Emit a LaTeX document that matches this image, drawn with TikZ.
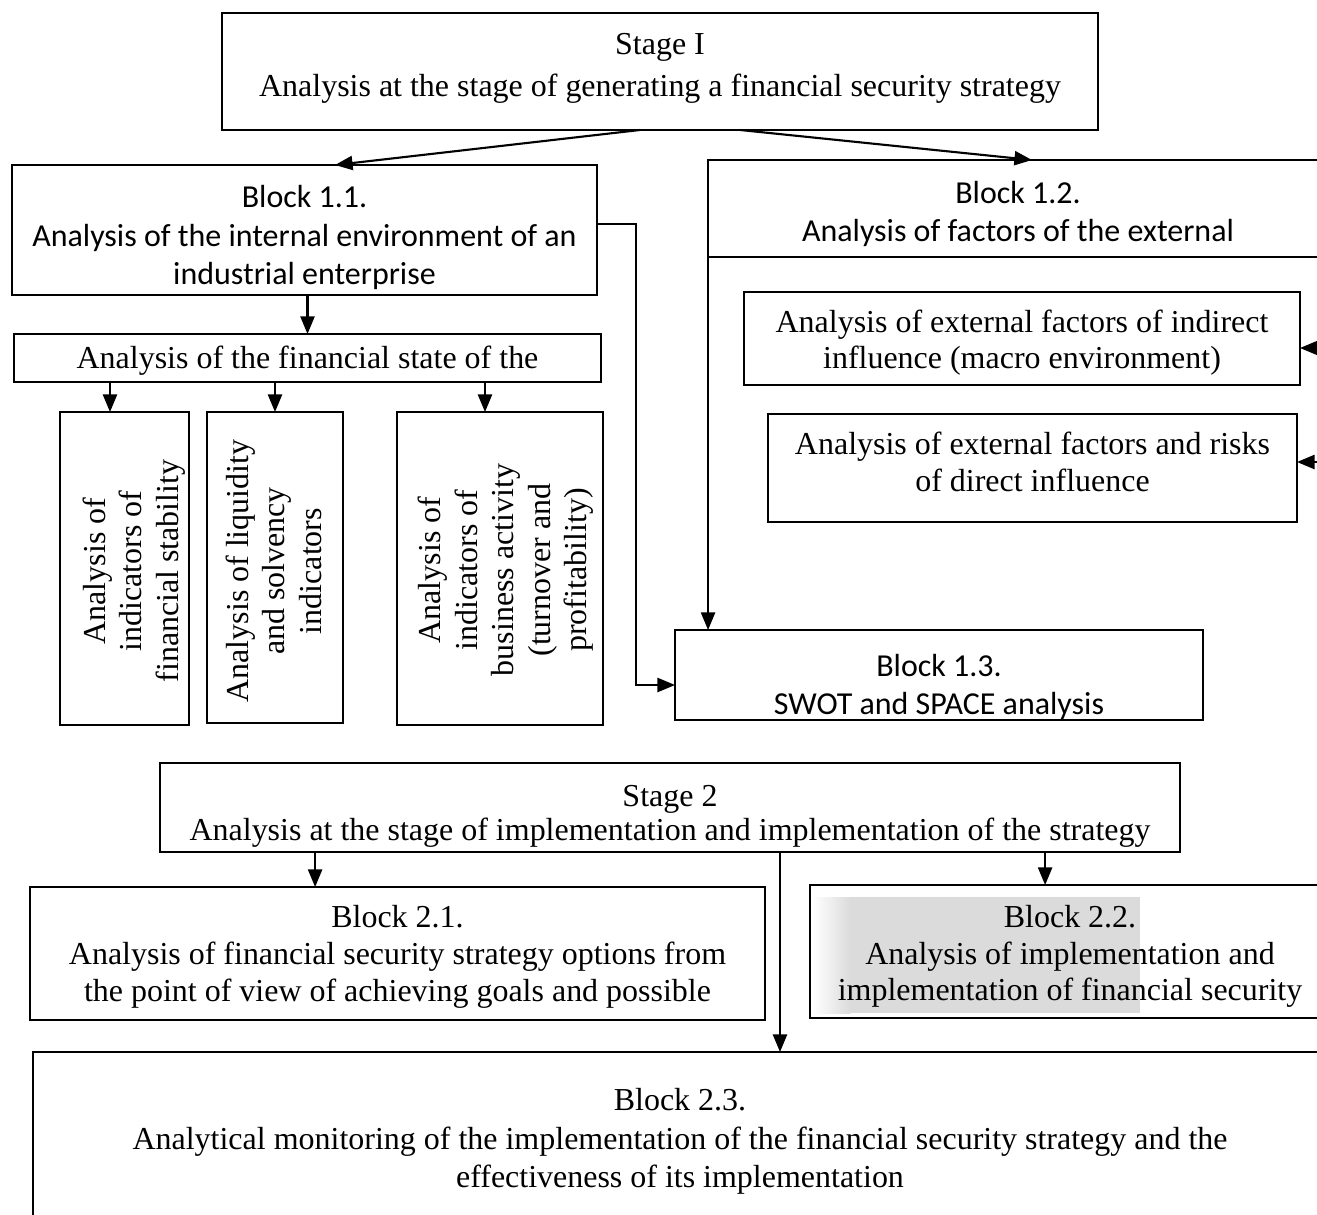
\documentclass[tikz,border=0pt]{standalone}
\usepackage{fontspec}
\setmainfont{Liberation Serif}
\newfontfamily\calfont{Carlito}
\usetikzlibrary{arrows.meta,calc}
\begin{document}
\begin{tikzpicture}[x=0.02cm,y=-0.02cm,
  box/.style={draw, line width=1.4pt, inner sep=0pt, outer sep=0pt},
  txt/.style={align=center, inner sep=0pt, outer sep=0pt,
    execute at begin node=\strut, execute at end node=\strut},
  serif/.style={txt, font=\fontsize{18.2}{#1}\selectfont},
  serif/.default=21,
  sans/.style={txt, font=\calfont\fontsize{18.2}{#1}\selectfont},
  sans/.default=21.6,
  arr/.style={line width=1.2pt, -{Triangle[length=10pt,width=8pt]}}]
\clip (0,0) rectangle (1317,1214);

% Stage I
\node[box, minimum width=17.52cm, minimum height=2.34cm] (s1) at (660,71.5) {};
\node[serif=24] (s1t) at (660,71)
  {Stage I\\Analysis at the stage of generating a financial security strategy};

% Block 1.1 and its sub-analyses
\node[box, minimum width=11.70cm, minimum height=2.60cm] (b11) at (304.5,230) {};
\begin{scope}
  \clip (b11.south west) rectangle (b11.north east);
  \node[sans=22] (b11t) at (304.5,241)
    {Block 1.1.\\Analysis of the internal environment of an\\industrial enterprise};
\end{scope}
\node[box, minimum width=11.74cm, minimum height=0.96cm] (fs) at (307.5,358) {};
\node[serif] (fst) at (307.5,361.6) {Analysis of the financial state of the};
\node[box, minimum width=2.58cm, minimum height=6.26cm] (vA) at (124.5,568.5) {};
\node[serif=20.8, rotate=90] (vAt) at (136,571)
  {Analysis of\\indicators of\\financial stability};
\node[box, minimum width=2.72cm, minimum height=6.22cm] (vB) at (275,567.5) {};
\node[serif=20.8, rotate=90] (vBt) at (279,571)
  {Analysis of liquidity\\and solvency\\indicators};
\node[box, minimum width=4.12cm, minimum height=6.26cm] (vC) at (500,568.5) {};
\node[serif=20.8, rotate=90] (vCt) at (508,570)
  {Analysis of\\indicators of\\business activity\\(turnover and\\profitability)};

% Block 1.2 and external factors
\node[box, minimum width=12.40cm, minimum height=1.94cm] (b12) at (1018,208.5) {};
\node[sans] (b12t) at (1018,217.5) {Block 1.2.\\Analysis of factors of the external};
\node[box, minimum width=11.12cm, minimum height=1.86cm] (ind) at (1022,338.5) {};
\node[serif=20.5] (indt) at (1022,344.8)
  {Analysis of external factors of indirect\\influence (macro environment)};
\node[box, minimum width=10.58cm, minimum height=2.16cm] (dir) at (1032.5,468) {};
\node[serif] (dirt) at (1032.5,467.3)
  {Analysis of external factors and risks\\of direct influence};

% Block 1.3
\node[box, minimum width=10.56cm, minimum height=1.80cm] (b13) at (939,675) {};
\begin{scope}
  \clip (b13.south west) rectangle (b13.north east);
  \node[sans] (b13t) at (939,690) {Block 1.3.\\SWOT and SPACE analysis};
\end{scope}

% Stage 2 and its blocks
\node[box, minimum width=20.40cm, minimum height=1.78cm] (s2) at (670,807.5) {};
\node[serif=19.5] (s2t) at (670,818)
  {Stage 2\\Analysis at the stage of implementation and implementation of the strategy};
\node[box, minimum width=14.70cm, minimum height=2.66cm] (b21) at (397.5,953.5) {};
\node[serif=21.3] (b21t) at (397.5,959)
  {Block 2.1.\\Analysis of financial security strategy options from\\the point of view of achieving goals and possible};
% soft grey band behind the Block 2.2 text
\fill[left color=white, right color=black!14] (813,897) rectangle (850,1013);
\fill[black!14] (850,897) rectangle (1140,1013);
\node[box, minimum width=10.40cm, minimum height=2.66cm] (b22) at (1070,951.5) {};
\node[serif=21] (b22t) at (1070,958.5)
  {Block 2.2.\\Analysis of implementation and\\implementation of financial security};
\node[box, minimum width=25.88cm, minimum height=3.48cm] (b23) at (680,1139) {};
\node[serif=21.9] (b23t) at (680,1144)
  {Block 2.3.\\Analytical monitoring of the implementation of the financial security strategy and the\\effectiveness of its implementation};

% Connectors of stage I
\draw[arr] ($(s1.south)+(-20,0)$) -- ($(b11.north)+(30.5,0)$);
\draw[arr] ($(s1.south)+(80,0)$) -- ($(b12.north)+(14,0)$);
\draw[arr] (fs.north |- b11.south) -- (fs.north);
\coordinate (pA) at ($(vA.north)+(-14.5,0)$);
\coordinate (pC) at ($(vC.north)+(-15,0)$);
\draw[arr] (pA |- fs.south) -- (pA);
\draw[arr] (vB.north |- fs.south) -- (vB.north);
\draw[arr] (pC |- fs.south) -- (pC);
\coordinate (c1) at ($(b11.east)+(0,-6)$);
\coordinate (c2) at ($(b13.west)+(0,10)$);
\draw[arr] (c1) -- ++(39,0) |- (c2);
\draw[arr] (b12.south west) -- (b12.south west |- b13.north);
\coordinate (indsrc) at ($(ind.east)+(30,9.5)$);
\coordinate (dirsrc) at ($(dir.east)+(30,-6)$);
\draw[arr] (indsrc) -- (indsrc -| ind.east);
\draw[arr] (dirsrc) -- (dirsrc -| dir.east);

% Connectors of stage 2
\coordinate (q1) at ($(s2.south west)+(155,0)$);
\coordinate (q2) at ($(s2.south west)+(885,0)$);
\coordinate (q3) at ($(s2.south)+(110,0)$);
\draw[arr] (q1) -- (q1 |- b21.north);
\draw[arr] (q2) -- (q2 |- b22.north);
\draw[arr] (q3) -- (q3 |- b23.north);
\end{tikzpicture}
\end{document}
